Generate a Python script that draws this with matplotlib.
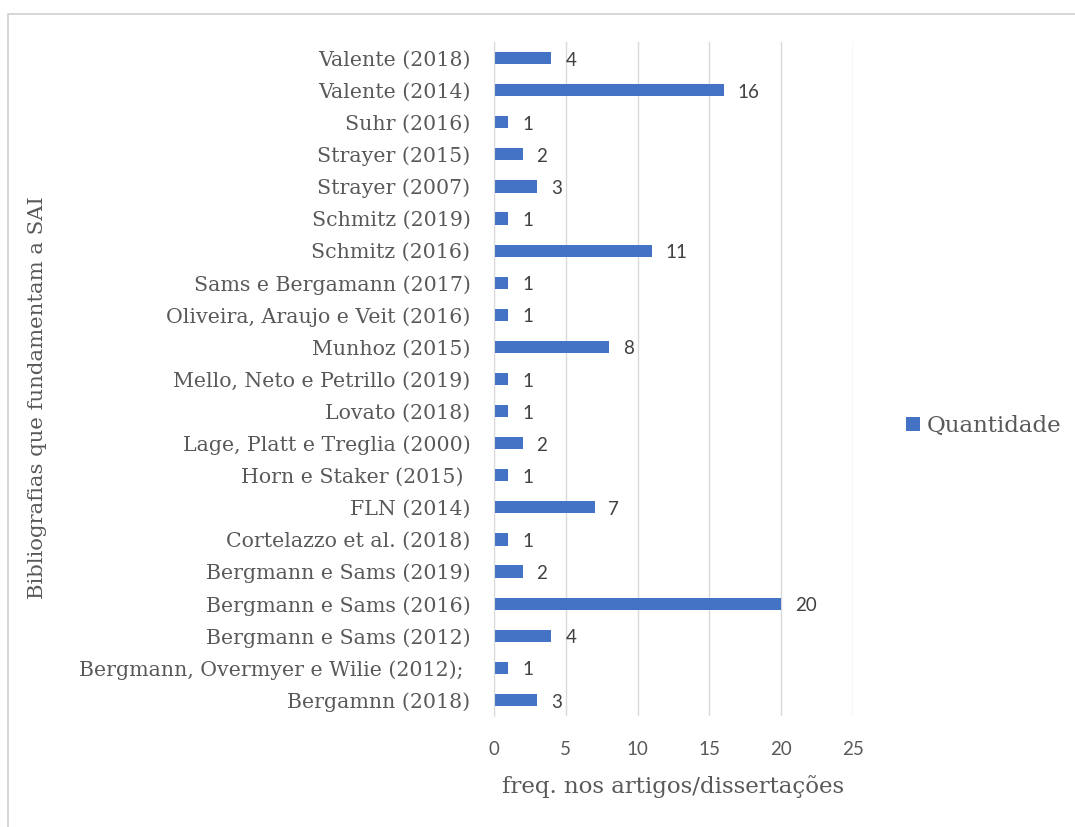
import matplotlib
matplotlib.use("Agg")
import matplotlib.pyplot as plt
from matplotlib.patches import Rectangle

# categories listed bottom -> top, as drawn
refs = [
    "Bergamnn (2018)",
    "Bergmann, Overmyer e Wilie (2012); ",
    "Bergmann e Sams (2012)",
    "Bergmann e Sams (2016)",
    "Bergmann e Sams (2019)",
    "Cortelazzo et al. (2018)",
    "FLN (2014)",
    "Horn e Staker (2015) ",
    "Lage, Platt e Treglia (2000)",
    "Lovato (2018)",
    "Mello, Neto e Petrillo (2019)",
    "Munhoz (2015)",
    "Oliveira, Araujo e Veit (2016)",
    "Sams e Bergamann (2017)",
    "Schmitz (2016)",
    "Schmitz (2019)",
    "Strayer (2007)",
    "Strayer (2015)",
    "Suhr (2016)",
    "Valente (2014)",
    "Valente (2018)",
]
counts = [3, 1, 4, 20, 2, 1, 7, 1, 2, 1, 1, 8, 1, 1, 11, 1, 3, 2, 1, 16, 4]
xticks = [0, 5, 10, 15, 20, 25]

BLUE = "#4472C4"
GRAY = "#595959"
SERIF = ["DejaVu Serif"]
SANS = ["Lato", "DejaVu Sans"]

fig = plt.figure(figsize=(10.75, 8.27), dpi=100)
fig.patches.append(Rectangle((8 / 1075, -0.05), 1.2, 1 - 14 / 827 + 0.05,
                             transform=fig.transFigure, fill=False,
                             edgecolor="#D0D0D0", lw=1.2))

ax = fig.add_axes([494 / 1075, 1 - 716 / 827, 359 / 1075, 674 / 827])
y = range(len(refs))
ax.barh(y, counts, height=0.38, color=BLUE, label="Quantidade", zorder=3)
for yi, c in zip(y, counts):
    ax.annotate(str(c), (c, yi), xytext=(10, -1.5), textcoords="offset points",
                va="center", ha="left", fontsize=13.5, color="#404040",
                family=SANS)

ax.set_xlim(0, 25)
ax.set_ylim(-0.5, len(refs) - 0.5)
ax.set_xticks(xticks)
ax.set_yticks(list(y))
ax.set_yticklabels(refs, family=SERIF, fontsize=14.8, color=GRAY)
ax.tick_params(axis="x", length=0, pad=18, labelsize=13.5, labelcolor=GRAY)
for t in ax.get_xticklabels():
    t.set_family(SANS)
ax.tick_params(axis="y", length=0, pad=17)
ax.grid(True, axis="x", color="#D9D9D9", lw=1, zorder=0)
for s in ["top", "right", "bottom"]:
    ax.spines[s].set_visible(False)
ax.spines["left"].set_color("#D9D9D9")
ax.spines["left"].set_zorder(4)

ax.set_xlabel("freq. nos artigos/dissertações", family=SERIF, fontsize=16.5,
              color=GRAY, labelpad=12)
fig.text(38 / 1075, 1 - 398 / 827, "Bibliografias que fundamentam a SAI",
         rotation=90, ha="center", va="center", family=SERIF, fontsize=15.3,
         color=GRAY)

ax.legend(loc="center left", bbox_to_anchor=(1.09, 0.43), frameon=False,
          prop={"family": SERIF, "size": 16.5}, handlelength=0.6,
          handleheight=0.6, handletextpad=0.3, labelcolor=GRAY)

fig.savefig("out.png", dpi=100)
